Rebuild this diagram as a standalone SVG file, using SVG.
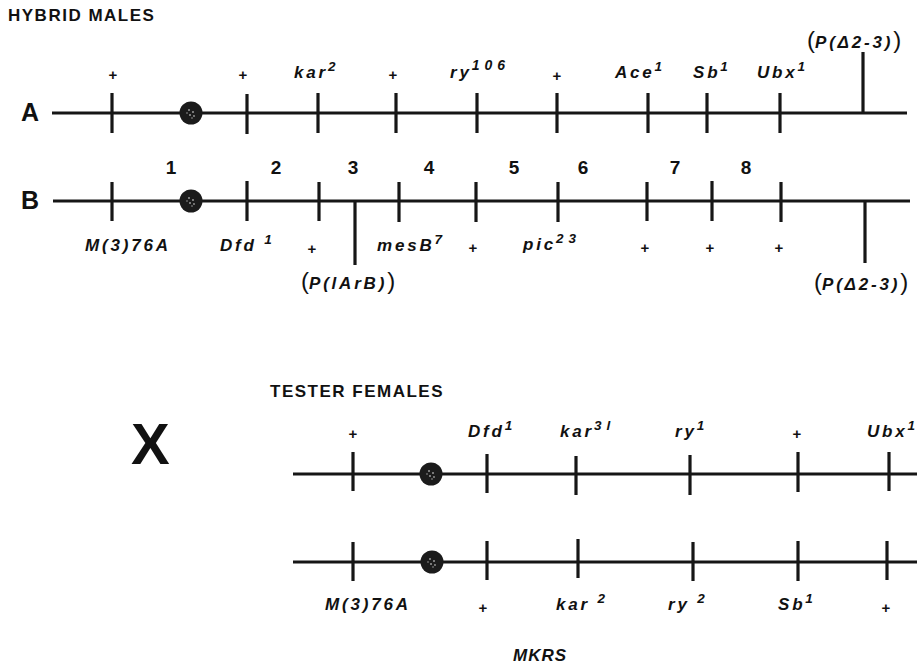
<svg xmlns="http://www.w3.org/2000/svg" xmlns:xlink="http://www.w3.org/1999/xlink" width="917" height="664" viewBox="0 0 917 664">
<style>
.ln{stroke:#161616;stroke-width:3.2;fill:none}
.tk{stroke:#161616;stroke-width:3.2}
.hd{font-family:"Liberation Sans",Arial,sans-serif;font-weight:bold;font-size:17px;letter-spacing:1.5px;fill:#111}
.big{font-family:"Liberation Sans",Arial,sans-serif;font-weight:bold;font-size:25px;fill:#111}
.num{font-family:"Liberation Sans",Arial,sans-serif;font-weight:bold;font-size:19px;fill:#111;text-anchor:middle}
.g{font-family:"Liberation Sans",Arial,sans-serif;font-weight:bold;font-style:italic;font-size:17px;letter-spacing:2.8px;fill:#111}
.sup{font-size:13.5px;letter-spacing:3px}
.pl{font-family:"Liberation Sans",Arial,sans-serif;font-weight:bold;font-size:15px;fill:#111;text-anchor:middle}
.par{font-family:"Liberation Sans",Arial,sans-serif;font-style:normal;font-weight:normal;font-size:24px;letter-spacing:0}
</style>
<defs>
<g id="cen">
<circle r="11.5" fill="#1b1b1b"/>
<circle cx="-2" cy="-3" r="1" fill="#9a9a9a"/>
<circle cx="2" cy="-1" r="1" fill="#9a9a9a"/>
<circle cx="-1" cy="2" r="1" fill="#9a9a9a"/>
<circle cx="3" cy="3" r="0.9" fill="#9a9a9a"/>
<circle cx="-4" cy="0" r="0.8" fill="#9a9a9a"/>
<circle cx="1" cy="5" r="0.8" fill="#9a9a9a"/>
</g>
</defs>
<rect width="917" height="664" fill="#fff"/>

<text class="hd" x="8" y="21">HYBRID MALES</text>

<g id="chromA">
<text class="big" x="21" y="121">A</text>
<line class="ln" x1="52" y1="113" x2="907" y2="113"/>
<g class="tk">
<line x1="112" y1="93" x2="112" y2="133"/>
<line x1="247" y1="94" x2="247" y2="134"/>
<line x1="318" y1="93" x2="318" y2="133"/>
<line x1="396" y1="93" x2="396" y2="133"/>
<line x1="477" y1="93" x2="477" y2="133"/>
<line x1="557" y1="93" x2="557" y2="133"/>
<line x1="648" y1="93" x2="648" y2="133"/>
<line x1="707" y1="93" x2="707" y2="133"/>
<line x1="780" y1="93" x2="780" y2="133"/>
<line x1="863" y1="52" x2="863" y2="113"/>
</g>
<use xlink:href="#cen" href="#cen" x="191" y="113"/>
<text class="pl" x="113" y="80">+</text>
<text class="pl" x="243" y="80">+</text>
<text class="pl" x="393" y="80">+</text>
<text class="pl" x="557" y="81">+</text>
<text class="g" x="294" y="78">kar<tspan class="sup" dy="-7">2</tspan></text>
<text class="g" x="450" y="78">ry<tspan class="sup" dy="-8" style="letter-spacing:5px;font-size:14px">106</tspan></text>
<text class="g" x="615" y="78">Ace<tspan class="sup" dy="-7">1</tspan></text>
<text class="g" x="693" y="78">Sb<tspan class="sup" dy="-7">1</tspan></text>
<text class="g" x="757" y="78">Ubx<tspan class="sup" dy="-7">1</tspan></text>
<text class="g" x="807" y="48"><tspan class="par">(</tspan>P(Δ2-3)<tspan class="par">)</tspan></text>
</g>

<g id="chromB">
<text class="big" x="21" y="209">B</text>
<line class="ln" x1="53" y1="201" x2="910" y2="201"/>
<g class="tk">
<line x1="112" y1="182" x2="112" y2="221"/>
<line x1="247" y1="181" x2="247" y2="221"/>
<line x1="319" y1="182" x2="319" y2="221"/>
<line x1="399" y1="182" x2="399" y2="222"/>
<line x1="476" y1="182" x2="476" y2="222"/>
<line x1="558" y1="182" x2="558" y2="222"/>
<line x1="647" y1="182" x2="647" y2="221"/>
<line x1="712" y1="181" x2="712" y2="221"/>
<line x1="781" y1="182" x2="781" y2="222"/>
<line x1="355" y1="201" x2="355" y2="265"/>
<line x1="865" y1="201" x2="865" y2="263"/>
</g>
<use xlink:href="#cen" href="#cen" x="191" y="201"/>
<text class="num" x="171" y="174">1</text>
<text class="num" x="276" y="174">2</text>
<text class="num" x="353" y="174">3</text>
<text class="num" x="429" y="174">4</text>
<text class="num" x="514" y="174">5</text>
<text class="num" x="583" y="174">6</text>
<text class="num" x="675" y="174">7</text>
<text class="num" x="746" y="174">8</text>
<text class="g" x="85" y="251">M(3)76A</text>
<text class="g" x="220" y="251">Dfd <tspan class="sup" dy="-7">1</tspan></text>
<text class="g" x="377" y="251">mesB<tspan class="sup" dy="-7">7</tspan></text>
<text class="g" x="523" y="250">pic<tspan class="sup" dy="-7" style="letter-spacing:5px">23</tspan></text>
<text class="pl" x="312" y="254">+</text>
<text class="pl" x="473" y="253">+</text>
<text class="pl" x="645" y="253">+</text>
<text class="pl" x="710" y="253">+</text>
<text class="pl" x="779" y="253">+</text>
<text class="g" x="301" y="289"><tspan class="par">(</tspan>P(lArB)<tspan class="par">)</tspan></text>
<text class="g" x="814" y="290"><tspan class="par">(</tspan>P(Δ2-3)<tspan class="par">)</tspan></text>
</g>

<text class="hd" x="270" y="397">TESTER FEMALES</text>
<text x="131" y="464" style="font-family:'Liberation Sans',Arial,sans-serif;font-weight:bold;font-size:58px;fill:#111">X</text>

<g id="tester1">
<line class="ln" x1="293" y1="474" x2="917" y2="474"/>
<g class="tk">
<line x1="353" y1="452" x2="353" y2="491"/>
<line x1="487" y1="454" x2="487" y2="493"/>
<line x1="576" y1="456" x2="576" y2="495"/>
<line x1="690" y1="455" x2="690" y2="495"/>
<line x1="798" y1="452" x2="798" y2="492"/>
<line x1="889" y1="452" x2="889" y2="491"/>
</g>
<use xlink:href="#cen" href="#cen" x="431" y="474"/>
<text class="pl" x="353" y="439">+</text>
<text class="pl" x="797" y="439">+</text>
<text class="g" x="468" y="437">Dfd<tspan class="sup" dy="-7">1</tspan></text>
<text class="g" x="560" y="437">kar<tspan class="sup" dy="-7" style="letter-spacing:5px">3l</tspan></text>
<text class="g" x="675" y="437">ry<tspan class="sup" dy="-7">1</tspan></text>
<text class="g" x="867" y="437">Ubx<tspan class="sup" dy="-7">1</tspan></text>
</g>

<g id="tester2">
<line class="ln" x1="293" y1="562" x2="917" y2="562"/>
<g class="tk">
<line x1="353" y1="542" x2="353" y2="581"/>
<line x1="487" y1="541" x2="487" y2="580"/>
<line x1="578" y1="539" x2="578" y2="578"/>
<line x1="693" y1="542" x2="693" y2="581"/>
<line x1="798" y1="541" x2="798" y2="581"/>
<line x1="887" y1="541" x2="887" y2="580"/>
</g>
<use xlink:href="#cen" href="#cen" x="432" y="562"/>
<text class="g" x="325" y="610">M(3)76A</text>
<text class="pl" x="483" y="613">+</text>
<text class="pl" x="886" y="613">+</text>
<text class="g" x="556" y="610">kar <tspan class="sup" dy="-7">2</tspan></text>
<text class="g" x="668" y="610">ry <tspan class="sup" dy="-7">2</tspan></text>
<text class="g" x="778" y="610">Sb<tspan class="sup" dy="-7">1</tspan></text>
<text class="g" x="513" y="661" style="font-size:17px;letter-spacing:1px">MKRS</text>
</g>
</svg>
